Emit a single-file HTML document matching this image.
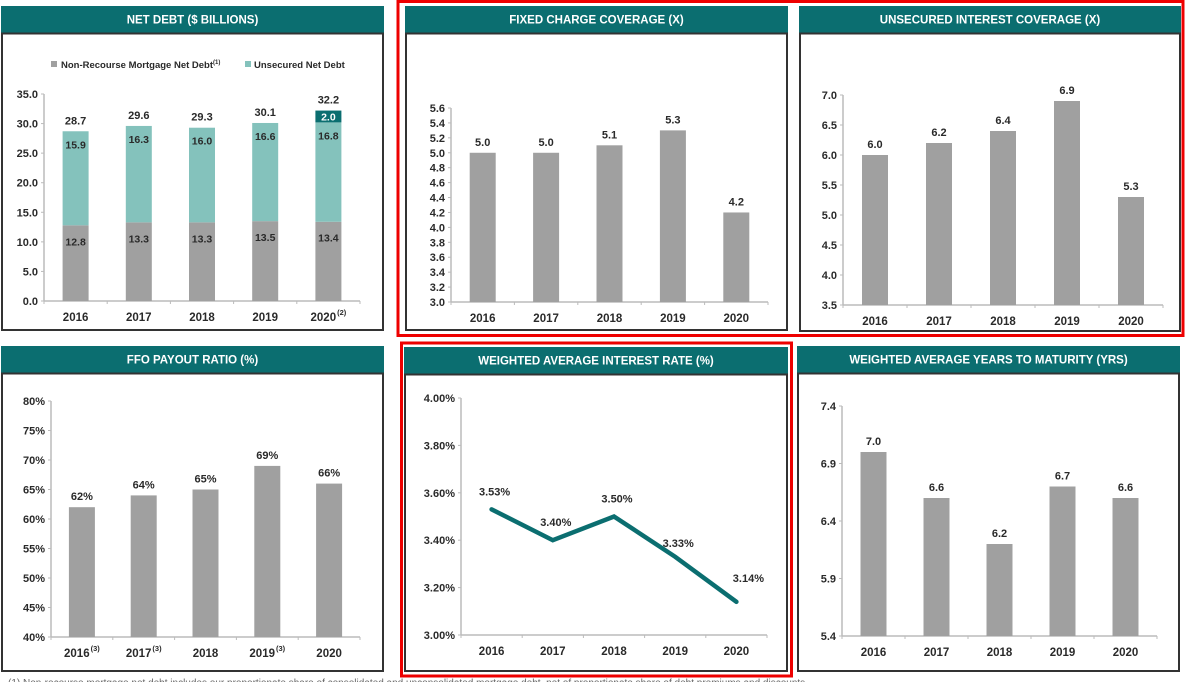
<!DOCTYPE html>
<html><head><meta charset="utf-8"><style>
html,body{margin:0;padding:0;background:#fff;width:1185px;height:682px;overflow:hidden}
svg{display:block;font-family:"Liberation Sans",sans-serif}
</style></head><body>
<svg id="s" width="1185" height="682" viewBox="0 0 1185 682"></svg>
<script>
const years=["2016","2017","2018","2019","2020"];
const netMortgage=[12.8,13.3,13.3,13.5,13.4];
const netUnsecured=[15.9,16.3,16.0,16.6,16.8];
const netOther=[0,0,0,0,2.0];
const netTotals=[28.7,29.6,29.3,30.1,32.2];
const netTicks=[0,5,10,15,20,25,30,35];
const netNotes=["","","","","(2)"];
const fccValues=[5.0,5.0,5.1,5.3,4.2];
const fccTicks=[3.0,3.2,3.4,3.6,3.8,4.0,4.2,4.4,4.6,4.8,5.0,5.2,5.4,5.6];
const uicValues=[6.0,6.2,6.4,6.9,5.3];
const uicTicks=[3.5,4.0,4.5,5.0,5.5,6.0,6.5,7.0];
const ffoValues=[62,64,65,69,66];
const ffoTicks=[40,45,50,55,60,65,70,75,80];
const ffoNotes=["(3)","(3)","","(3)",""];
const rateValues=[3.53,3.40,3.50,3.33,3.14];
const rateTicks=[3.0,3.2,3.4,3.6,3.8,4.0];
const ytmValues=[7.0,6.6,6.2,6.7,6.6];
const ytmTicks=[5.4,5.9,6.4,6.9,7.4];

const S=document.getElementById('s');
const NS='http://www.w3.org/2000/svg';
function el(tag,attrs,parent,text){const e=document.createElementNS(NS,tag);for(const k in attrs)e.setAttribute(k,attrs[k]);if(text!==undefined)e.textContent=text;(parent||S).appendChild(e);return e;}
const TEAL='#0b6e70',GRAY='#a0a0a0',AQUA='#84c2bc',TXT='#2a2a2a';

function panel(name,title,x0,y0,x1,y1){
  const g=el('g',{});
  
  
  const h=el('rect',{x:x0,y:y0,width:x1-x0,height:27,fill:TEAL},g);
  
  
  const b=el('rect',{x:x0+1,y:y0+27.5,width:x1-x0-2,height:y1-y0-28.5,fill:'#fff',stroke:'#333','stroke-width':2},g);
  
  
  const t=el('text',{x:(x0+x1)/2,y:y0+17.5,'text-anchor':'middle',fill:'#fff','font-size':11.5,'font-weight':'bold'},g,title);
  
  
  return g;
}
function axes(g,name,ax0,ax1,yTop,yBot,ticks,fmt,xNotes){
  const vmin=ticks[0],vmax=ticks[ticks.length-1];
  const ys=v=>yBot-(v-vmin)/(vmax-vmin)*(yBot-yTop);
  const cw=(ax1-ax0)/years.length;
  const xs=i=>ax0+cw*(i+0.5);
  el('line',{x1:ax0,y1:yTop,x2:ax0,y2:yBot,stroke:'#bbb','stroke-width':1.5},g);
  el('line',{x1:ax0,y1:yBot,x2:ax1,y2:yBot,stroke:'#bbb','stroke-width':1.5},g);
  ticks.forEach(v=>{
    el('line',{x1:ax0-3,y1:ys(v),x2:ax0,y2:ys(v),stroke:'#bbb'},g);
    const t=el('text',{x:ax0-6,y:ys(v)+4,'text-anchor':'end','font-size':11,'font-weight':'bold',fill:TXT},g,fmt(v));
    
    
  });
  for(let i=0;i<=years.length;i++)el('line',{x1:ax0+cw*i,y1:yBot,x2:ax0+cw*i,y2:yBot+3,stroke:'#bbb'},g);
  years.forEach((y,i)=>{
    const t=el('text',{x:xs(i),y:yBot+20,'text-anchor':'middle','font-size':11.5,'font-weight':'bold',fill:TXT},g,y);
    
    
    if(xNotes&&xNotes[i]){
      el('tspan',{'font-size':7.5,dy:-6,dx:1},t,xNotes[i]);
    }
  });
  return {ys,xs};
}
function barChart(name,title,box,ax,ticks,vals,fmtTick,fmtVal,notes){
  const g=panel(name,title,...box);
  const {ys,xs}=axes(g,name,ax[0],ax[1],ax[2],ax[3],ticks,fmtTick,notes);
  vals.forEach((v,i)=>{
    const r=el('rect',{x:xs(i)-13,y:ys(v),width:26,height:ys(ticks[0])-ys(v),fill:GRAY},g);
    
    
    const t=el('text',{x:xs(i),y:ys(v)-7,'text-anchor':'middle','font-size':11,'font-weight':'bold',fill:TXT},g,fmtVal(v));
    
    
  });
}

// Panel 1: net debt stacked
(function(){
  const g=panel('net-debt-panel','NET DEBT ($ BILLIONS)',1,6,384,331);
  const {ys,xs}=axes(g,'net-debt',44,360,94,301,netTicks,v=>v.toFixed(1),netNotes);
  const lg=el('g',{},g);
  
  
  el('rect',{x:51,y:61,width:6,height:6,fill:GRAY},lg);
  const lt=el('text',{x:61,y:68,'font-size':9.5,'font-weight':'bold',fill:TXT},lg,'Non-Recourse Mortgage Net Debt');
  el('tspan',{'font-size':6,dy:-4},lt,'(1)');
  el('rect',{x:245,y:61,width:6,height:6,fill:AQUA},lg);
  el('text',{x:254,y:68,'font-size':9.5,'font-weight':'bold',fill:TXT},lg,'Unsecured Net Debt');
  years.forEach((y,i)=>{
    const a=netMortgage[i],b=netUnsecured[i],c=netOther[i];
    const r1=el('rect',{x:xs(i)-13,y:ys(a),width:26,height:ys(0)-ys(a),fill:GRAY},g);
    
    
    el('text',{x:xs(i),y:ys(a)+20,'text-anchor':'middle','font-size':10.5,'font-weight':'bold',fill:TXT},g,a.toFixed(1));
    const r2=el('rect',{x:xs(i)-13,y:ys(a+b),width:26,height:ys(a)-ys(a+b),fill:AQUA},g);
    
    
    el('text',{x:xs(i),y:ys(a+b)+17,'text-anchor':'middle','font-size':10.5,'font-weight':'bold',fill:TXT},g,b.toFixed(1));
    if(c>0){
      const r3=el('rect',{x:xs(i)-13,y:ys(a+b+c),width:26,height:ys(a+b)-ys(a+b+c),fill:TEAL},g);
      
      
      el('text',{x:xs(i),y:ys(a+b+c)+10,'text-anchor':'middle','font-size':10.5,'font-weight':'bold',fill:'#fff'},g,c.toFixed(1));
    }
    const t=el('text',{x:xs(i),y:ys(netTotals[i])-7,'text-anchor':'middle','font-size':11,'font-weight':'bold',fill:TXT},g,netTotals[i].toFixed(1));
    
    
  });
})();

barChart('fixed-charge-panel','FIXED CHARGE COVERAGE (X)',[405,6,788,331],[451,768,108,302],fccTicks,fccValues,v=>v.toFixed(1),v=>v.toFixed(1));
barChart('unsecured-coverage-panel','UNSECURED INTEREST COVERAGE (X)',[799,6,1181,332],[843,1163,95,305],uicTicks,uicValues,v=>v.toFixed(1),v=>v.toFixed(1));
barChart('ffo-payout-panel','FFO PAYOUT RATIO (%)',[1,346,384,672],[51,360,401,637],ffoTicks,ffoValues,v=>v+'%',v=>v+'%',ffoNotes);
barChart('years-to-maturity-panel','WEIGHTED AVERAGE YEARS TO MATURITY (YRS)',[797,346,1180,672],[842,1157,406,636],ytmTicks,ytmValues,v=>v.toFixed(1),v=>v.toFixed(1));

// Panel 5: line
(function(){
  const g=panel('interest-rate-panel','WEIGHTED AVERAGE INTEREST RATE (%)',404,347,788,672);
  const {ys,xs}=axes(g,'interest-rate',461,767,398,635,rateTicks,v=>v.toFixed(2)+'%',null);
  const pts=rateValues.map((v,i)=>xs(i)+','+ys(v)).join(' ');
  const l=el('polyline',{points:pts,fill:'none',stroke:TEAL,'stroke-width':4.5,'stroke-linejoin':'miter','stroke-linecap':'round'},g);
  
  
  const dx=[3,3,3,3,12],dy=[-14,-14,-14,-10,-20];
  rateValues.forEach((v,i)=>{
    const t=el('text',{x:xs(i)+dx[i],y:ys(v)+dy[i],'text-anchor':'middle','font-size':11,'font-weight':'bold',fill:TXT},g,v.toFixed(2)+'%');
    
    
  });
})();

const rb1=el('rect',{x:398,y:1.5,width:785,height:334,fill:'none',stroke:'#e00','stroke-width':3});


const rb2=el('rect',{x:401.5,y:343,width:390,height:333,fill:'none',stroke:'#e00','stroke-width':3});


const fn=el('text',{x:8,y:686,'font-size':10,fill:'#666'},null,'(1)   Non-recourse mortgage net debt includes our proportionate share of consolidated and unconsolidated mortgage debt, net of proportionate share of debt premiums and discounts');


</script>
</body></html>
